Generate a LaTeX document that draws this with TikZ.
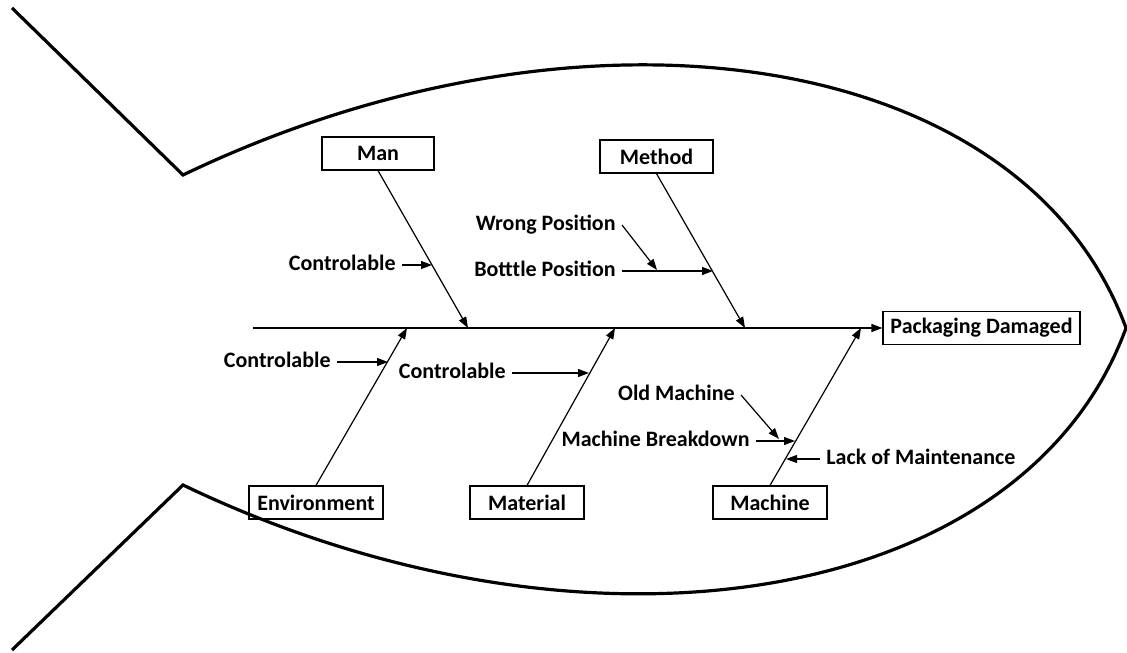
\documentclass[tikz,border=0pt]{standalone}
\usepackage{fontspec}
\setmainfont{Carlito}
\usepackage{tikz}
\usepackage{tkz-euclide}
\usetikzlibrary{positioning}
\usetikzlibrary{arrows.meta}

\begin{document}
\begin{tikzpicture}[
  x=0.5pt, y=0.5pt,
  outline/.style = {line width=1.6pt, line join=miter},
  spine/.style = {line width=0.8pt},
  bone/.style = {line width=0.6pt},
  box/.style = {draw, line width=0.6pt, minimum height=16.5pt, inner sep=0pt,
    font=\bfseries\fontsize{11}{13}\selectfont},
  cause/.style = {inner sep=3pt, text height=1.5ex, text depth=.3ex,
    font=\bfseries\fontsize{11}{13}\selectfont},
  >={Triangle[length=5.5pt, width=4pt]},
]
  \useasboundingbox (0,0) rectangle (1127,652);

  % fish outline
  \tkzDefPoint(12,644){t1}
  \tkzDefPoint(183,477){v1}
  \tkzDefPoint(1126,324){nose}
  \tkzDefPoint(183,167){v2}
  \tkzDefPoint(12,2){t2}
  \draw[outline] (t1) -- (v1)
    .. controls (583,669) and (1023,605) .. (nose)
    .. controls (1023,43) and (583,-25) .. (v2) -- (t2);

  % heads of the bones
  \node[box, minimum width=56pt]   (man)    at (378,498.5) {Man};
  \node[box, minimum width=56.5pt] (method) at (656.5,495.5) {Method};
  \node[box, minimum width=67pt]   (env)    at (316,149.5) {Environment};
  \node[box, minimum width=57pt]   (mat)    at (527,149.5) {Material};
  \node[box, minimum width=57pt]   (mach)   at (770,149.5) {Machine};
  \node[box, minimum width=98.5pt] (effect) at (981.5,324) {Packaging Damaged};

  % spine
  \tkzDefPoint(253,324){s0}
  \draw[spine,->] (s0) -- (effect);

  \tkzDefPoint(468,324){manTip}
  \tkzDefPoint(745,324){methodTip}
  \tkzDefPoint(407,324){envTip}
  \tkzDefPoint(615,324){matTip}
  \tkzDefPoint(861,324){machTip}
  \draw[bone,->] (man.south) -- (manTip);
  \draw[bone,->] (method.south) -- (methodTip);
  \draw[bone,->] (env.north) -- (envTip);
  \draw[bone,->] (mat.north) -- (matTip);
  \draw[bone,->] (mach.north) -- (machTip);

  % small bones
  \tkzDefPoint(432,387){m1}
  \tkzDefPoint(713,381){b1}
  \tkzDefPoint(657,382){w1}
  \tkzDefPoint(388,290){e1}
  \tkzDefPoint(589,279){r1}
  \tkzDefPoint(795,211){k1}
  \tkzDefPoint(779,213){o1}
  \tkzDefPoint(786,193){k2}

  \node[cause, left=15pt of m1] (manCtl) {Controlable};
  \node[cause, left=45.5pt of b1] (bottle) {Botttle Position};
  \node[cause, above=23pt of bottle.east, anchor=east] (wrong) {Wrong Position};
  \node[cause, left=25.5pt of e1] (envCtl) {Controlable};
  \node[cause, left=38.5pt of r1] (matCtl) {Controlable};
  \node[cause, left=19.5pt of k1] (breakdown) {Machine Breakdown};
  \node[cause, above=23pt of breakdown.east, anchor=east, xshift=-7.5pt] (old) {Old Machine};
  \node[cause, right=17pt of k2] (lack) {Lack of Maintenance};

  \draw[bone,->] (manCtl) -- (m1);
  \draw[bone,->] (bottle) -- (b1);
  \draw[bone,->] (wrong.east) -- (w1);
  \draw[bone,->] (envCtl) -- (e1);
  \draw[bone,->] (matCtl) -- (r1);
  \draw[bone,->] (breakdown) -- (k1);
  \draw[bone,->] (old.east) -- (o1);
  \draw[bone,->] (lack) -- (k2);

\end{tikzpicture}
\end{document}
